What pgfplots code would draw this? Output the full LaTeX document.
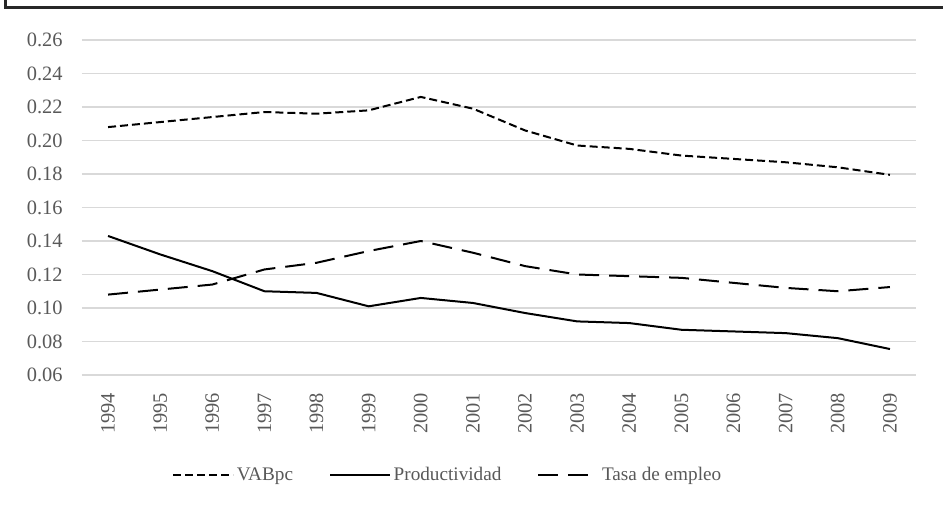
\documentclass[border=0pt]{standalone}
\usepackage{pgfplots}
\pgfplotsset{compat=1.18}
\usepackage{fontspec}
\setmainfont{Liberation Serif}
\definecolor{ticktext}{RGB}{89,89,89}
\definecolor{gridc}{RGB}{217,217,217}
\definecolor{framec}{RGB}{40,40,40}
\begin{document}
\begin{tikzpicture}[x=0.75pt,y=0.75pt]
\useasboundingbox (0,0) rectangle (943,513);
\draw[framec,line width=1.6pt] (5.5,513) -- (5.5,505.5) -- (943,505.5);
\begin{axis}[
  at={(82*0.75pt,138*0.75pt)}, anchor=south west,
  scale only axis, width=625.5pt, height=251.25pt,
  xmin=1993.5, xmax=2009.5, ymin=0.06, ymax=0.26,
  xtick={1994,...,2009},
  xticklabel style={rotate=90, anchor=east, font=\fontsize{15.3}{17}\selectfont, text=ticktext},
  xticklabel={\pgfmathprintnumber[1000 sep={},fixed]{\tick}},
  ytick={0.06,0.08,...,0.261},
  yticklabel style={font=\fontsize{15.3}{17}\selectfont, text=ticktext,
    /pgf/number format/.cd, fixed, fixed zerofill, precision=2, assume math mode=true},
  /pgf/number format/assume math mode=true,
  axis line style={draw=none},
  major tick length=0pt,
  ymajorgrids, grid style={gridc, line width=0.8pt},
  xtick pos=bottom, ytick pos=left,
  xticklabel shift=10pt, yticklabel shift=11pt,
  legend columns=3,
  legend style={at={(0.103,-0.2985)}, anchor=west, draw=none, fill=none,
    font=\fontsize{14.4}{16}\selectfont, text=ticktext,
    /tikz/every even column/.append style={column sep=25pt}},
  legend cell align=left,
  legend image code/.code={\draw[#1] (0pt,0pt) -- (45pt,0pt);},
  every axis plot/.append style={line width=1.5pt, black, line join=round},
]
\addplot[dash pattern=on 6pt off 3pt] coordinates {
(1994,0.208)(1995,0.211)(1996,0.214)(1997,0.217)(1998,0.216)(1999,0.218)(2000,0.226)(2001,0.219)(2002,0.206)(2003,0.197)(2004,0.195)(2005,0.191)(2006,0.189)(2007,0.187)(2008,0.184)(2009,0.1795)};
\addlegendentry{VABpc}
\addplot[solid] coordinates {
(1994,0.143)(1995,0.132)(1996,0.122)(1997,0.110)(1998,0.109)(1999,0.101)(2000,0.106)(2001,0.103)(2002,0.097)(2003,0.092)(2004,0.091)(2005,0.087)(2006,0.086)(2007,0.085)(2008,0.082)(2009,0.0755)};
\addlegendentry{Productividad}
\addplot[dash pattern=on 15pt off 7.5pt] coordinates {
(1994,0.108)(1995,0.111)(1996,0.114)(1997,0.123)(1998,0.127)(1999,0.134)(2000,0.140)(2001,0.133)(2002,0.125)(2003,0.120)(2004,0.119)(2005,0.118)(2006,0.115)(2007,0.112)(2008,0.110)(2009,0.1125)};
\addlegendentry{Tasa de empleo}
\end{axis}
\end{tikzpicture}
\end{document}
